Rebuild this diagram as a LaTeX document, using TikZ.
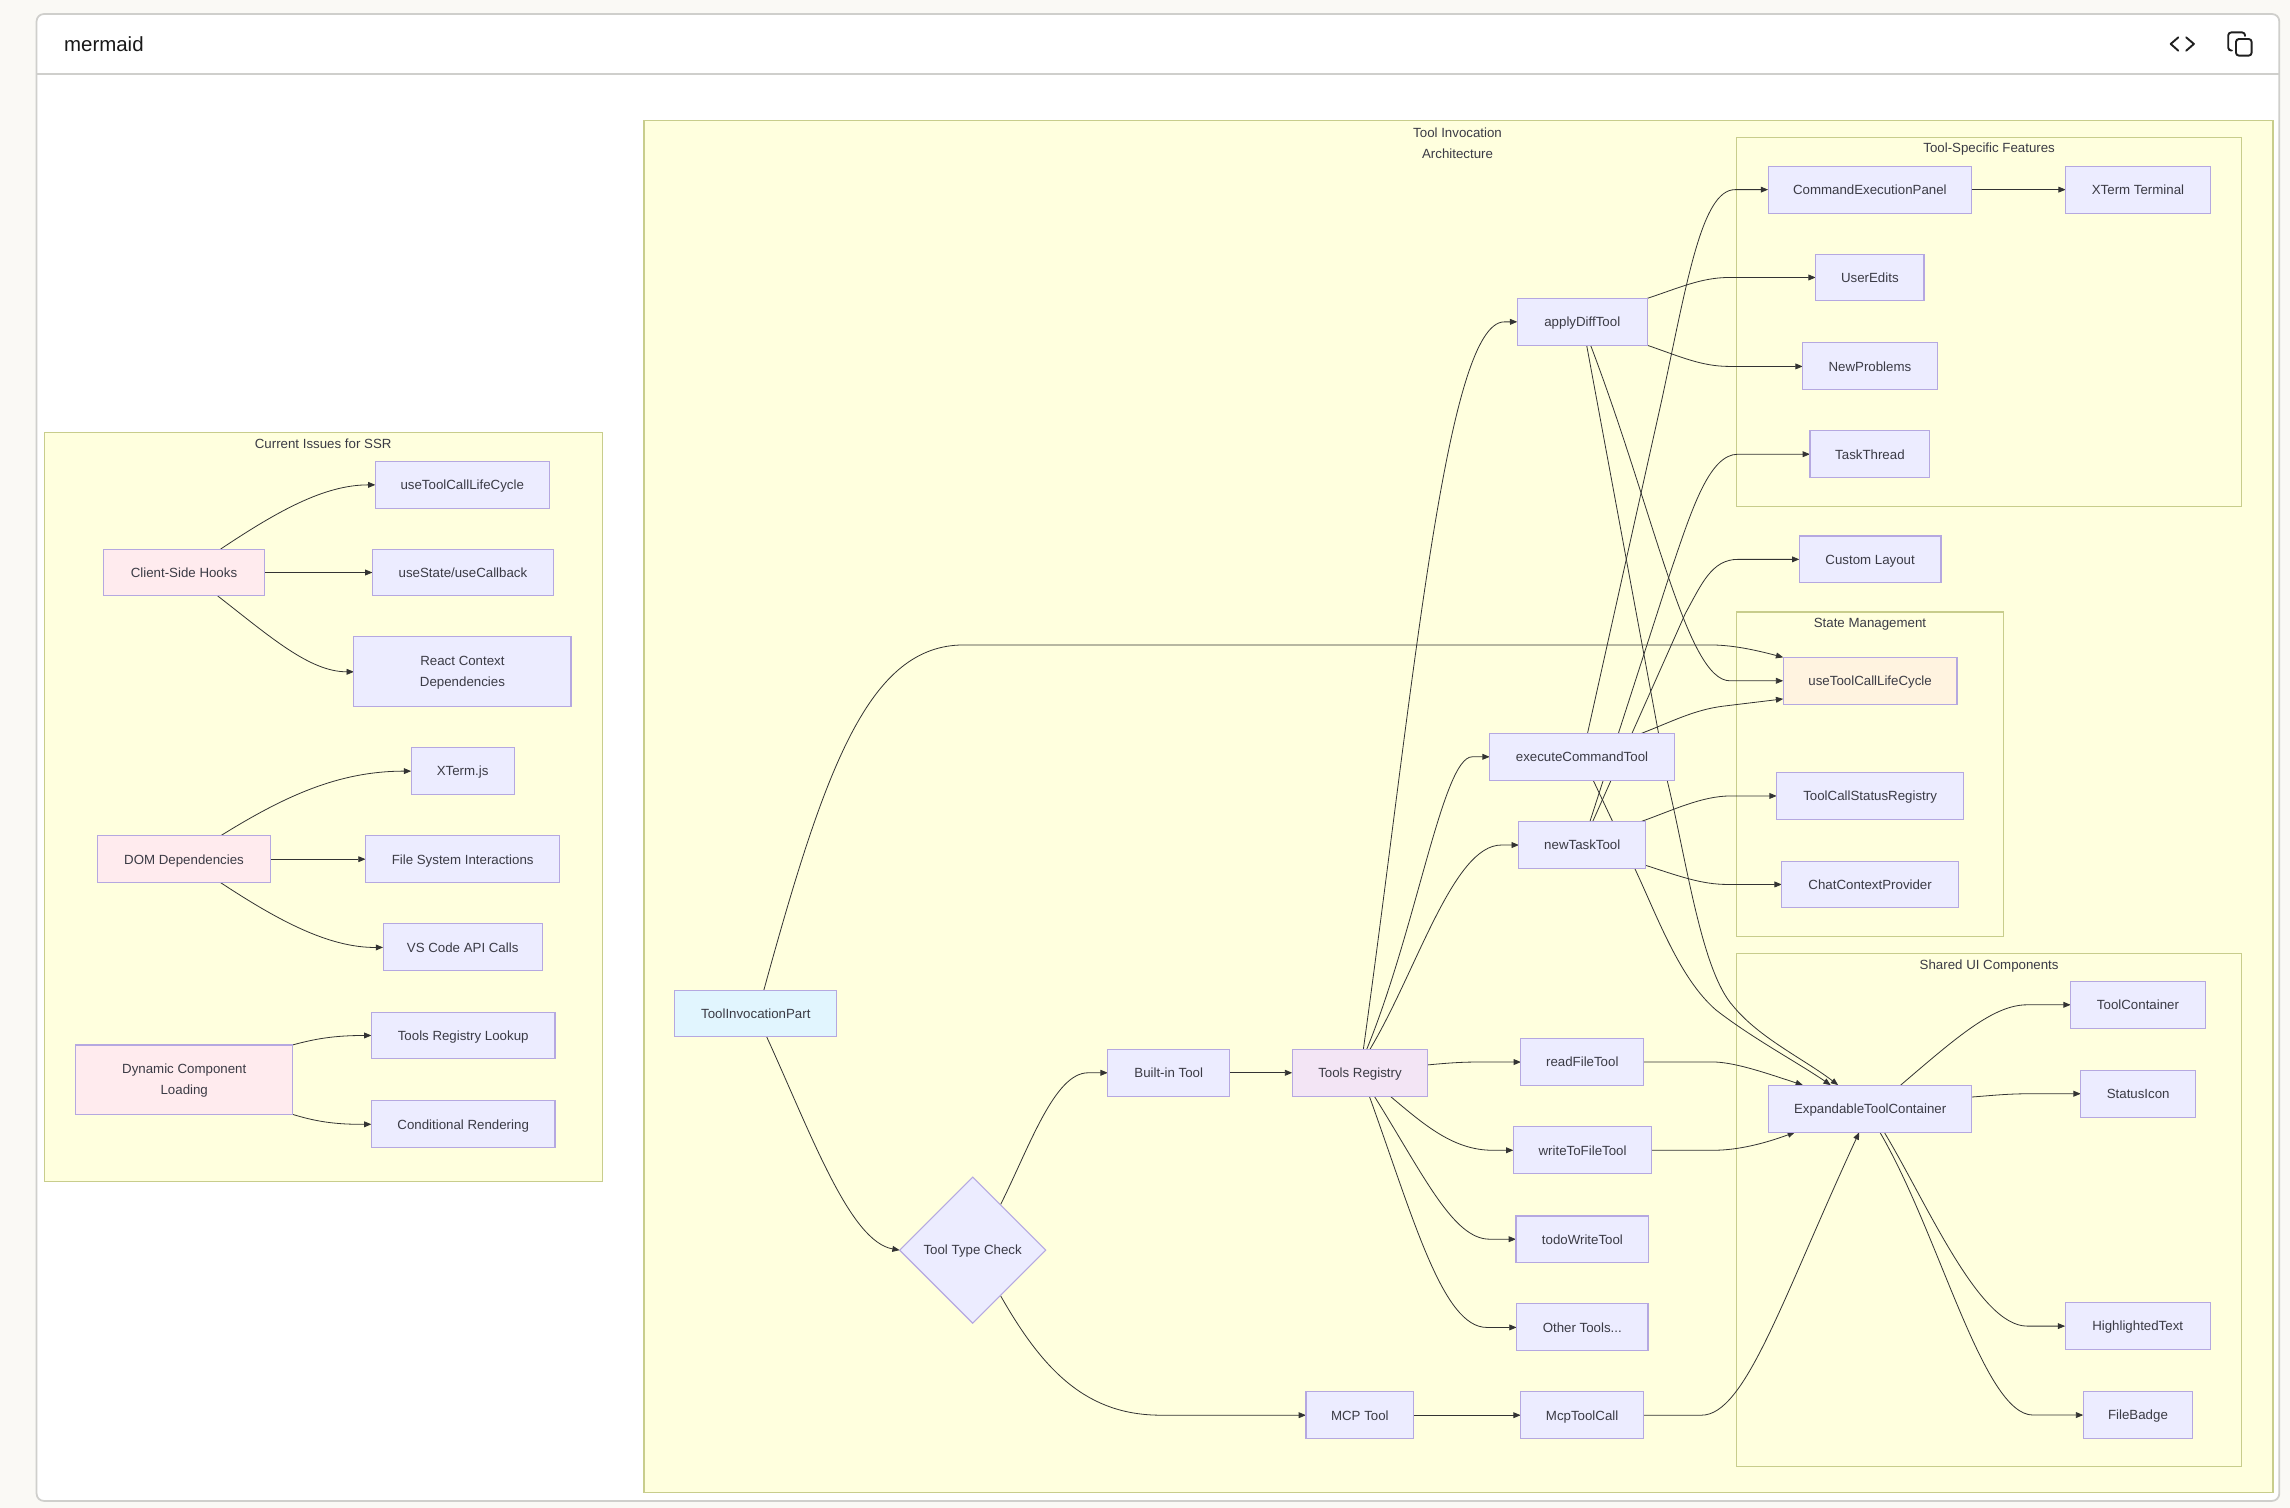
\documentclass[tikz,border=0pt]{standalone}
\usepackage{fontspec}
\setmainfont{Liberation Sans}
\usetikzlibrary{arrows.meta,shapes.geometric}
\pgfdeclarelayer{clusters}
\pgfdeclarelayer{edges}
\pgfsetlayers{clusters,edges,main}
\definecolor{pagebg}{HTML}{FAF9F5}
\definecolor{cardline}{HTML}{CFCFCC}
\definecolor{clusterfill}{HTML}{FFFFDE}
\definecolor{clusterline}{HTML}{C8CD8C}
\definecolor{nodefill}{HTML}{ECECFF}
\definecolor{nodeline}{HTML}{B5A8E0}
\definecolor{pinkfill}{HTML}{FFEBEE}
\definecolor{regfill}{HTML}{F3E5F5}
\definecolor{bluefill}{HTML}{E1F5FE}
\definecolor{orangefill}{HTML}{FFF3E0}
\definecolor{txt}{HTML}{3B3B45}
\definecolor{edgecol}{HTML}{333333}
\tikzset{
  basebox/.style={draw=nodeline,fill=nodefill,line width=.75pt,inner sep=0pt,outer sep=0pt,
    text=txt,align=center,font=\fontsize{9.1}{14.6}\selectfont},
  box/.style={basebox,text height=8.5pt,text depth=1.9pt},
  pinkbox/.style={box,fill=pinkfill},
  pinktwo/.style={basebox,fill=pinkfill},
  regbox/.style={box,fill=regfill},
  bluebox/.style={box,fill=bluefill},
  orangebox/.style={box,fill=orangefill},
  cluster/.style={draw=clusterline,fill=clusterfill,line width=.8pt,inner sep=0pt,outer sep=0pt},
  ctitle/.style={text=txt,inner sep=0pt,align=center,font=\fontsize{9.1}{14.6}\selectfont},
  edge/.style={draw=edgecol,line width=.55pt,-{Triangle[length=5pt,width=4pt]}},
  icon/.style={draw=black!88,line width=1.3pt,line cap=round,line join=round}
}
\newcommand{\nbox}[7][box]{%
  \pgfmathsetmacro{\cxx}{(#3+#5)/2}\pgfmathsetmacro{\cyy}{(#4+#6)/2}%
  \pgfmathsetmacro{\wxx}{#5-#3}\pgfmathsetmacro{\hyy}{#6-#4}%
  \node[#1,minimum width=\wxx pt,minimum height=\hyy pt] (#2) at (\cxx,\cyy) {#7};}
\newcommand{\twol}[2]{\raisebox{-.9pt}{\begin{tabular}{@{}c@{}}#1\\#2\end{tabular}}}
\begin{document}
\begin{tikzpicture}[x=1pt,y=-1pt]
\useasboundingbox (0,0) rectangle (1568,1032.55);
\begin{pgfonlayer}{clusters}
\fill[pagebg] (0,0) rectangle (1568,1032.55);
\node[draw=cardline,fill=white,line width=1.2pt,rounded corners=5pt,inner sep=0pt,outer sep=0pt,minimum width=1535.6pt,minimum height=1018.1pt] (card) at (792.85,518.65) {};
\draw[cardline,line width=1.2pt] (card.west |- 0,50.7) -- (card.east |- 0,50.7);
\nbox[cluster]{gLeft}{30.3}{296}{412.3}{809}{}
\nbox[cluster]{gMain}{441}{82.6}{1556.3}{1022}{}
\nbox[cluster]{gFeat}{1189.2}{94}{1534.7}{347}{}
\nbox[cluster]{gState}{1189.2}{419}{1371.7}{641}{}
\nbox[cluster]{gShared}{1189.2}{653}{1534.7}{1004}{}
\end{pgfonlayer}
\node[anchor=base west,inner sep=0pt,text=black!90,font=\fontsize{14}{16}\selectfont] (hdr) at (43.7,35) {mermaid};
\draw[icon] (1491.5,25.6) -- (1486.3,30.1) -- (1491.5,34.7);
\draw[icon] (1496.9,25.6) -- (1502.2,30.1) -- (1496.9,34.7);
\draw[icon,rounded corners=2pt] (1531,26.7) rectangle (1541.7,38.1);
\draw[icon,rounded corners=2pt] (1528.2,34.6) -- (1525.7,34.6) -- (1525.7,22.2) -- (1537.2,22.2) -- (1537.2,24.6);
\node[ctitle] (tLeft) at (221.3,304) {Current Issues for SSR};
\node[ctitle] (tMain) at (998,98) {Tool Invocation\\Architecture};
\node[ctitle] (tFeat) at (1362,102.4) {Tool-Specific Features};
\node[ctitle] (tState) at (1280.4,427.6) {State Management};
\node[ctitle] (tShared) at (1362,661.4) {Shared UI Components};
% left group
\nbox[pinkbox]{hooks}{71}{376}{181}{408}{Client-Side Hooks}
\nbox[pinkbox]{domdep}{67}{572.3}{185}{604.3}{DOM Dependencies}
\nbox[pinktwo]{dyn}{52}{715.5}{200.3}{763}{\twol{Dynamic Component}{Loading}}
\nbox{lifeL}{257}{316}{376}{348}{useToolCallLifeCycle}
\nbox{usestate}{255}{376}{379}{408}{useState/useCallback}
\nbox[basebox]{react}{242.3}{436}{391}{484}{\twol{React Context}{Dependencies}}
\nbox{xtermjs}{281.5}{512}{352}{544}{XTerm.js}
\nbox{fsi}{250.3}{572.3}{383.3}{604.3}{File System Interactions}
\nbox{vscode}{262.3}{632.6}{371.3}{664.8}{VS Code API Calls}
\nbox{lookup}{254.3}{693}{380}{725}{Tools Registry Lookup}
\nbox{condr}{254.3}{753.6}{380}{786}{Conditional Rendering}
% main group
\nbox[bluebox]{tip}{462}{678}{573}{710}{ToolInvocationPart}
\node[box,shape=diamond,minimum width=100pt,minimum height=100pt] (check) at (666,856) {Tool Type Check};
\nbox{builtin}{758.5}{718.5}{842}{750.6}{Built-in Tool}
\nbox[regbox]{registry}{884.8}{718.5}{977.6}{750.6}{Tools Registry}
\nbox{mcptool}{894.2}{953}{968}{985}{MCP Tool}
\nbox{mcpcall}{1041.2}{953}{1125.4}{985}{McpToolCall}
\nbox{apply}{1038.9}{204.3}{1127.9}{236.4}{applyDiffTool}
\nbox{exec}{1020}{502.1}{1146.4}{534.3}{executeCommandTool}
\nbox{newtask}{1040}{562.6}{1126.8}{594.6}{newTaskTool}
\nbox{readf}{1041.4}{711}{1125.4}{743.4}{readFileTool}
\nbox{writef}{1036.2}{771.4}{1131}{803.8}{writeToFileTool}
\nbox{todo}{1038}{832.6}{1129}{864.4}{todoWriteTool}
\nbox{others}{1038.4}{892.8}{1128.4}{925}{Other Tools...}
\nbox{cmdpanel}{1210.6}{113.7}{1350}{146}{CommandExecutionPanel}
\nbox{xterm}{1414.4}{113.7}{1513.4}{146}{XTerm Terminal}
\nbox{useredits}{1243.2}{174}{1317.4}{206}{UserEdits}
\nbox{newprob}{1234.3}{234.8}{1326.4}{267}{NewProblems}
\nbox{taskth}{1239.3}{295}{1321.4}{327}{TaskThread}
\nbox{customl}{1232}{367}{1329}{399}{Custom Layout}
\nbox[orangebox]{life}{1221}{450.1}{1340}{482.2}{useToolCallLifeCycle}
\nbox{statusreg}{1216.5}{529}{1344.5}{561}{ToolCallStatusRegistry}
\nbox{chatctx}{1220}{589.6}{1341}{621.6}{ChatContextProvider}
\nbox{expand}{1211}{743}{1350}{775.3}{ExpandableToolContainer}
\nbox{toolc}{1417.8}{672}{1510}{704}{ToolContainer}
\nbox{statusi}{1424.7}{732.8}{1503.4}{765}{StatusIcon}
\nbox{highl}{1414}{892}{1513.4}{924}{HighlightedText}
\nbox{fileb}{1426.4}{952.8}{1501.4}{985}{FileBadge}
\begin{pgfonlayer}{edges}
% left group
\draw[edge] ([xshift=25pt]hooks.north) .. controls (190,350) and (222,332) .. (lifeL.west);
\draw[edge] (hooks.east) -- (usestate.west);
\draw[edge] ([xshift=23pt]hooks.south) .. controls (185,436) and (212,460) .. (react.west);
\draw[edge] ([xshift=25pt]domdep.north) .. controls (195,545) and (232,528) .. (xtermjs.west);
\draw[edge] (domdep.east) -- (fsi.west);
\draw[edge] ([xshift=25pt]domdep.south) .. controls (190,630) and (225,649) .. (vscode.west);
\draw[edge] (dyn.north east) .. controls (215,711.5) and (228,709) .. (lookup.west);
\draw[edge] (dyn.south east) .. controls (215,767.5) and (228,770) .. (condr.west);
% main
\draw[edge] ([xshift=5.5pt]tip.north) .. controls (565,525) and (595,441.6) .. (660,441.6) -- (1171,441.6) .. controls (1185,441.6) and (1200,444.5) .. (life.north west);
\draw[edge] ([xshift=7.5pt]tip.south) .. controls (556,778) and (582,850) .. (check.west);
\draw[edge] ([xshift=19pt,yshift=31pt]check.center) .. controls (705,785) and (722,734.55) .. (745,734.55) -- (builtin.west);
\draw[edge] ([xshift=19pt,yshift=-31pt]check.center) .. controls (715,940) and (745,969) .. (795,969) -- (mcptool.west);
\draw[edge] (builtin.east) -- (registry.west);
\draw[edge] (mcptool.east) -- (mcpcall.west);
\draw[edge] ([xshift=2.3pt]registry.north) .. controls (968,470) and (990,220.4) .. (1030,220.4) -- (apply.west);
\draw[edge] ([xshift=4.6pt]registry.north) .. controls (970,635) and (988,518.2) .. (1008,518.2) -- (exec.west);
\draw[edge] ([xshift=6.8pt]registry.north) .. controls (970,665) and (995,578.6) .. (1028,578.6) -- (newtask.west);
\draw[edge] ([yshift=5.4pt]registry.east) .. controls (990,728) and (1000,727.2) .. (1010,727.2) -- (readf.west);
\draw[edge] ([xshift=20.7pt]registry.south) .. controls (975,770) and (995,787.6) .. (1022,787.6) -- (writef.west);
\draw[edge] ([xshift=9.8pt]registry.south) .. controls (975,805) and (995,848.5) .. (1020,848.5) -- (todo.west);
\draw[edge] ([xshift=6.4pt]registry.south) .. controls (968,835) and (988,908.9) .. (1018,908.9) -- (others.west);
% applyDiffTool
\draw[edge] (apply.north east) .. controls (1150,197) and (1165,190) .. (1184,190) -- (useredits.west);
\draw[edge] (apply.south east) .. controls (1150,244) and (1165,250.9) .. (1184,250.9) -- (newprob.west);
\draw[edge] ([xshift=5.7pt]apply.south) .. controls (1133,352) and (1155,466.15) .. (1184.5,466.15) -- (life.west);
\draw[edge] ([xshift=3pt]apply.south) -- (1141.7,535) .. controls (1155,590) and (1165,665) .. (1186.8,689) .. controls (1205,711) and (1235,725) .. ([xshift=-21.9pt]expand.north);
% executeCommandTool
\draw[edge] ([xshift=3.8pt]exec.north) -- (1137.8,274) .. controls (1155,194) and (1165,129.85) .. (1188,129.85) -- (cmdpanel.west);
\draw[edge] ([xshift=40.8pt]exec.north) .. controls (1145,494) and (1160,486) .. (1180,483.5) -- ([yshift=-12.4pt]life.west);
\draw[edge] ([xshift=7.7pt]exec.south) -- (1119.5,595) .. controls (1135,628) and (1150,670) .. (1175,691.6) .. controls (1200,711) and (1230,727) .. ([xshift=-27pt]expand.north);
% newTaskTool
\draw[edge] ([xshift=5.2pt]newtask.north) -- (1143.5,392.6) .. controls (1158,350) and (1170,311) .. (1190,311) -- (taskth.west);
\draw[edge] ([xshift=7.1pt]newtask.north) -- (1154,420) .. controls (1165,400) and (1172,383) .. (1190,383) -- (customl.west);
\draw[edge] ([xshift=40pt]newtask.north) .. controls (1145,555) and (1165,545) .. (1185,545) -- (statusreg.west);
\draw[edge] ([yshift=-13.9pt]newtask.east) .. controls (1150,600) and (1165,605.6) .. (1183,605.6) -- (chatctx.west);
% into ExpandableToolContainer
\draw[edge] (readf.east) -- (1175,727.2) .. controls (1190,728) and (1210,735) .. ([xshift=-46pt]expand.north);
\draw[edge] (writef.east) -- (1173,787.6) .. controls (1190,787.6) and (1208,783) .. ([xshift=-51.5pt]expand.south);
\draw[edge] (mcpcall.east) -- (1165,969) .. controls (1195,969) and (1220,890) .. ([xshift=-7.5pt]expand.south);
% out of ExpandableToolContainer
\draw[edge] (cmdpanel.east) -- (xterm.west);
\draw[edge] ([xshift=20.9pt]expand.north) .. controls (1340,710) and (1365,688) .. (1388,688) -- (toolc.west);
\draw[edge] ([yshift=8pt]expand.east) .. controls (1365,750) and (1375,748.9) .. (1390,748.9) -- (statusi.west);
\draw[edge] ([xshift=9.7pt]expand.south) .. controls (1320,825) and (1355,908) .. (1388,908) -- (highl.west);
\draw[edge] ([xshift=6.7pt]expand.south) .. controls (1328,845) and (1358,968.9) .. (1392,968.9) -- (fileb.west);
\end{pgfonlayer}
\end{tikzpicture}
\end{document}
